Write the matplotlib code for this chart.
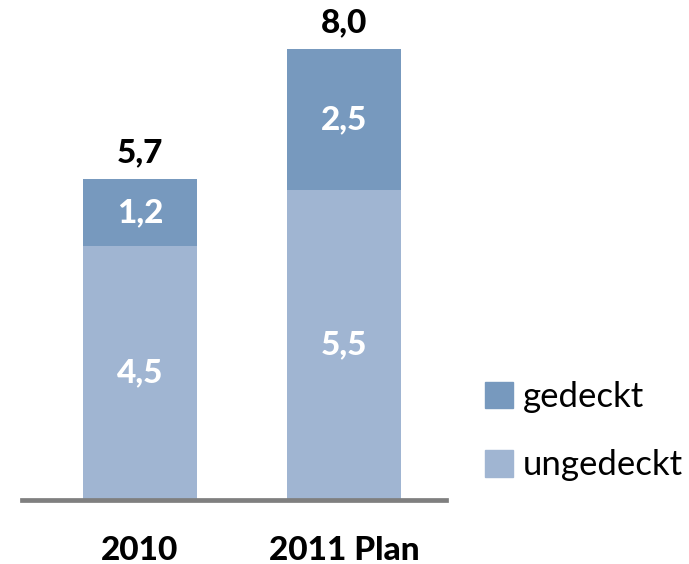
import matplotlib.pyplot as plt
from matplotlib.patches import Patch

# Werte in Mrd. (Komma als Dezimaltrennzeichen in den Beschriftungen)
kategorien = ['2010', '2011 Plan']
ungedeckt = [4.5, 5.5]
gedeckt = [1.2, 2.5]
gesamt = [5.7, 8.0]

c_dunkel = '#7799be'
c_hell = '#a0b5d2'

def de(v):
    return f'{v:.1f}'.replace('.', ',')

plt.rcParams['font.family'] = ['Lato', 'DejaVu Sans']

fig = plt.figure(figsize=(6.89, 5.64), dpi=100)
ax = fig.add_axes([22/689, 64/564, 424/689, 500/564])

x = range(len(kategorien))
b1 = ax.bar(x, ungedeckt, width=0.56, color=c_hell, zorder=2)
b2 = ax.bar(x, gedeckt, bottom=ungedeckt, width=0.56, color=c_dunkel, zorder=2)

for i in x:
    ax.text(i, ungedeckt[i] / 2, de(ungedeckt[i]), ha='center', va='center',
            color='white', fontsize=24, fontweight='black')
    ax.text(i, ungedeckt[i] + gedeckt[i] / 2, de(gedeckt[i]), ha='center', va='center',
            color='white', fontsize=24, fontweight='black')
    ax.text(i, gesamt[i] + 0.2, de(gesamt[i]), ha='center', va='bottom',
            color='black', fontsize=24, fontweight='black')
    ax.text(i, -0.9, kategorien[i], ha='center', va='center',
            color='black', fontsize=24, fontweight='black')

ax.axhline(0, color='#7f7f7f', lw=3.4, zorder=3, clip_on=False)
ax.set_xlim(-0.578, 1.5)
ax.set_ylim(0, 500/56.4)
ax.axis('off')

fig.legend(handles=[Patch(color=c_dunkel), Patch(color=c_hell)],
           labels=['gedeckt', 'ungedeckt'], loc='upper left',
           bbox_to_anchor=(485/689, 1 - 381/564), frameon=False,
           fontsize=25, handlelength=0.8, handleheight=0.8,
           handletextpad=0.3, labelspacing=1.05, borderpad=0, borderaxespad=0)

fig.savefig('out.png', dpi=100)
